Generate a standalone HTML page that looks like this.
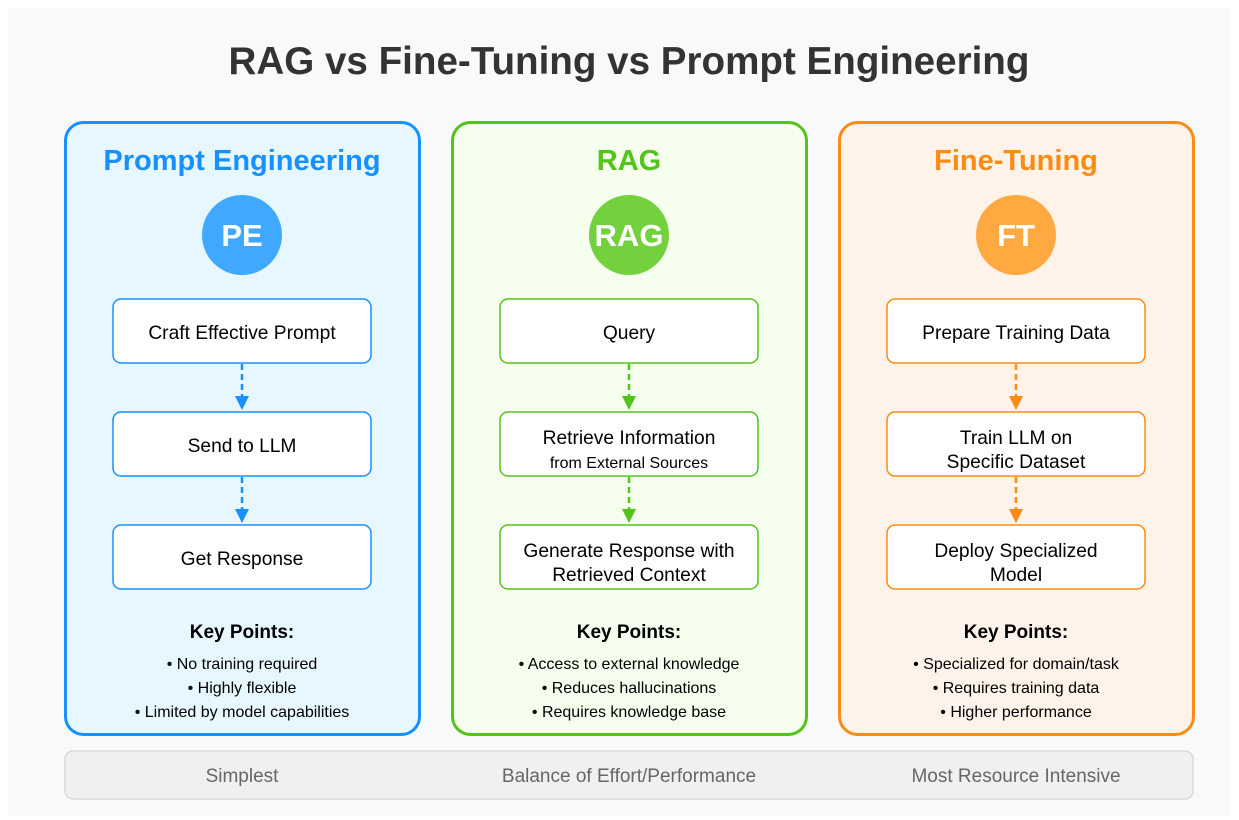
<!DOCTYPE html>
<html><head><meta charset="utf-8"><style>
html,body{margin:0;padding:0;background:#fff}
svg{display:block;font-family:"Liberation Sans",Arial,sans-serif}
</style></head><body>
<svg width="1239" height="820" viewBox="0 0 1239 820" xmlns="http://www.w3.org/2000/svg">
<rect x="0" y="0" width="1239" height="820" fill="#fff"/>
<rect x="8" y="8" width="1223" height="808" fill="#f8f9fa"/>
<text x="629" y="74" text-anchor="middle" font-size="38.6" font-weight="bold" fill="#333">RAG vs Fine-Tuning vs Prompt Engineering</text>

<!-- PE -->
<g>
<rect x="65.5" y="122.5" width="354" height="612" rx="18" fill="#e6f7ff" stroke="#1890ff" stroke-width="3"/>
<text x="242" y="170" text-anchor="middle" font-size="29" font-weight="bold" fill="#1890ff">Prompt Engineering</text>
<circle cx="242" cy="235" r="40" fill="#40a9ff"/>
<text x="242" y="246" text-anchor="middle" font-size="31" font-weight="bold" fill="#fff">PE</text>
<g fill="#fff" stroke="#1890ff" stroke-width="1.5">
<rect x="113" y="299" width="258" height="64" rx="8"/>
<rect x="113" y="412" width="258" height="64" rx="8"/>
<rect x="113" y="525" width="258" height="64" rx="8"/>
</g>
<g stroke="#1890ff" stroke-width="2.5" stroke-dasharray="6,4"><line x1="242" y1="364" x2="242" y2="398"/><line x1="242" y1="477" x2="242" y2="511"/></g>
<g fill="#1890ff"><path d="M235,396 L249,396 L242,410 Z"/><path d="M235,509 L249,509 L242,523 Z"/></g>
<g font-size="19.2" fill="#000" text-anchor="middle">
<text x="242" y="339">Craft Effective Prompt</text>
<text x="242" y="452">Send to LLM</text>
<text x="242" y="565">Get Response</text>
</g>
<text x="242" y="638" text-anchor="middle" font-size="19" font-weight="bold" fill="#000">Key Points:</text>
<g font-size="16" fill="#000" text-anchor="middle">
<text x="242" y="669">• No training required</text>
<text x="242" y="693">• Highly flexible</text>
<text x="242" y="717">• Limited by model capabilities</text>
</g>
</g>

<!-- RAG -->
<g>
<rect x="452.5" y="122.5" width="354" height="612" rx="18" fill="#f6ffed" stroke="#52c41a" stroke-width="3"/>
<text x="629" y="170" text-anchor="middle" font-size="29" font-weight="bold" fill="#52c41a">RAG</text>
<circle cx="629" cy="235" r="40" fill="#73d13d"/>
<text x="629" y="246" text-anchor="middle" font-size="31" font-weight="bold" fill="#fff">RAG</text>
<g fill="#fff" stroke="#52c41a" stroke-width="1.5">
<rect x="500" y="299" width="258" height="64" rx="8"/>
<rect x="500" y="412" width="258" height="64" rx="8"/>
<rect x="500" y="525" width="258" height="64" rx="8"/>
</g>
<g stroke="#52c41a" stroke-width="2.5" stroke-dasharray="6,4"><line x1="629" y1="364" x2="629" y2="398"/><line x1="629" y1="477" x2="629" y2="511"/></g>
<g fill="#52c41a"><path d="M622,396 L636,396 L629,410 Z"/><path d="M622,509 L636,509 L629,523 Z"/></g>
<g font-size="19.2" fill="#000" text-anchor="middle">
<text x="629" y="339">Query</text>
<text x="629" y="444">Retrieve Information</text>
<text x="629" y="468" font-size="16">from External Sources</text>
<text x="629" y="557">Generate Response with</text>
<text x="629" y="581">Retrieved Context</text>
</g>
<text x="629" y="638" text-anchor="middle" font-size="19" font-weight="bold" fill="#000">Key Points:</text>
<g font-size="16" fill="#000" text-anchor="middle">
<text x="629" y="669">• Access to external knowledge</text>
<text x="629" y="693">• Reduces hallucinations</text>
<text x="629" y="717">• Requires knowledge base</text>
</g>
</g>

<!-- FT -->
<g>
<rect x="839.5" y="122.5" width="354" height="612" rx="18" fill="#fff2e8" stroke="#fa8c16" stroke-width="3"/>
<text x="1016" y="170" text-anchor="middle" font-size="29" font-weight="bold" fill="#fa8c16">Fine-Tuning</text>
<circle cx="1016" cy="235" r="40" fill="#ffa940"/>
<text x="1016" y="246" text-anchor="middle" font-size="31" font-weight="bold" fill="#fff">FT</text>
<g fill="#fff" stroke="#fa8c16" stroke-width="1.5">
<rect x="887" y="299" width="258" height="64" rx="8"/>
<rect x="887" y="412" width="258" height="64" rx="8"/>
<rect x="887" y="525" width="258" height="64" rx="8"/>
</g>
<g stroke="#fa8c16" stroke-width="2.5" stroke-dasharray="6,4"><line x1="1016" y1="364" x2="1016" y2="398"/><line x1="1016" y1="477" x2="1016" y2="511"/></g>
<g fill="#fa8c16"><path d="M1009,396 L1023,396 L1016,410 Z"/><path d="M1009,509 L1023,509 L1016,523 Z"/></g>
<g font-size="19.2" fill="#000" text-anchor="middle">
<text x="1016" y="339">Prepare Training Data</text>
<text x="1016" y="444">Train LLM on</text>
<text x="1016" y="468">Specific Dataset</text>
<text x="1016" y="557">Deploy Specialized</text>
<text x="1016" y="581">Model</text>
</g>
<text x="1016" y="638" text-anchor="middle" font-size="19" font-weight="bold" fill="#000">Key Points:</text>
<g font-size="16" fill="#000" text-anchor="middle">
<text x="1016" y="669">• Specialized for domain/task</text>
<text x="1016" y="693">• Requires training data</text>
<text x="1016" y="717">• Higher performance</text>
</g>
</g>

<rect x="65" y="751" width="1128" height="48" rx="8" fill="#f0f0f0" stroke="#d9d9d9" stroke-width="1.5"/>
<g font-size="19" fill="#666" text-anchor="middle">
<text x="242" y="782">Simplest</text>
<text x="629" y="782">Balance of Effort/Performance</text>
<text x="1016" y="782">Most Resource Intensive</text>
</g>
</svg>
</body></html>
